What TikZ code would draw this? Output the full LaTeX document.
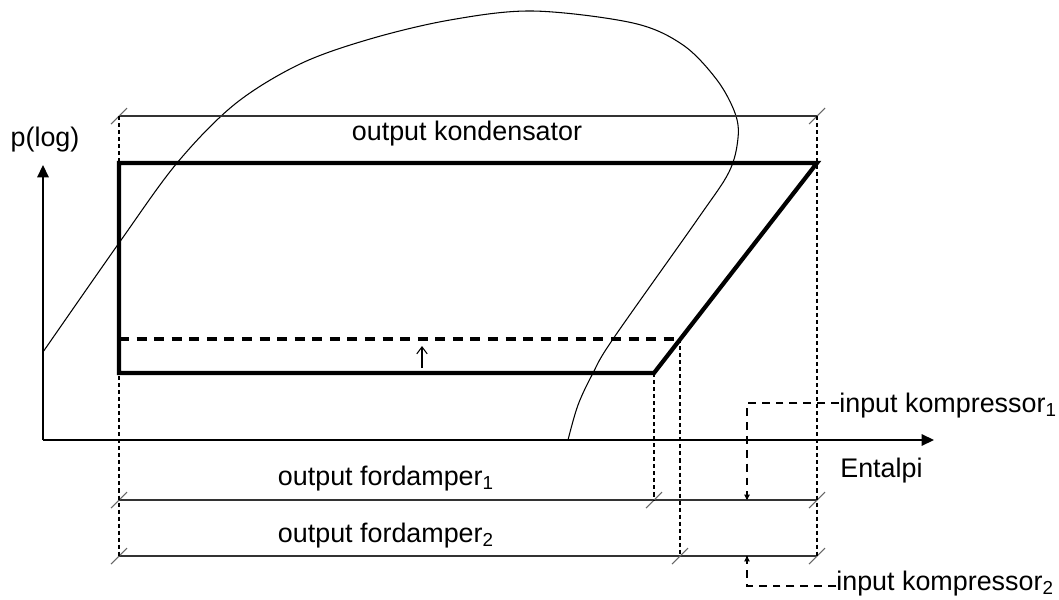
\documentclass[tikz,border=0pt]{standalone}
\usepackage{fontspec}
\setmainfont{Liberation Sans}
\usetikzlibrary{arrows.meta}
\begin{document}
\begin{tikzpicture}[x=0.02cm,y=-0.02cm,
  lbl/.style={font=\fontsize{15.3}{18}\selectfont, inner sep=0pt},
  cyc/.style={line width=2.4pt, line join=miter},
  cycdash/.style={line width=2.4pt, dash pattern=on 5.7pt off 4.3pt},
  dimline/.style={line width=0.7pt, draw=black!80},
  guide/.style={line width=0.6pt, dash pattern=on 2.3pt off 1.7pt},
  inguide/.style={line width=0.6pt, dash pattern=on 4.5pt off 3.4pt},
  tickmark/.style={line width=0.6pt, draw=black!60},
  axis/.style={line width=0.9pt, -{Triangle[length=7pt,width=6.5pt]}},
  dome/.style={line width=0.6pt}]
\useasboundingbox (0,0) rectangle (1059,599);

% axes
\coordinate (O) at (43,440);
\coordinate (Ytip) at (43,165);
\coordinate (Xtip) at (934,440);
\draw[axis] (O) -- (Ytip);
\draw[axis] (O) -- (Xtip);
\node[lbl, anchor=base] (plog) at (45,146) {p(log)};
\node[lbl, anchor=base west] (ent) at (840,477) {Entalpi};

% saturation dome
\draw[dome] plot[smooth, tension=0.55] coordinates {(43,352) (119,243) (177,163) (235,104) (300,64) (370,39) (450,20) (533,11) (633,23) (683,45) (717,80) (735,113) (738,138) (729,172) (697,220) (613,339) (593,373) (578,405) (568,440)};

% cycle
\coordinate (A) at (119,163);
\coordinate (B) at (817,163);
\coordinate (C) at (654,373);
\coordinate (D) at (119,373);
\coordinate (E) at (680,339);
\coordinate (F) at (119,339);
\draw[cyc] (B) -- (A) -- (D) -- (C) -- cycle;
\draw[cycdash] (F) -- (E);
\coordinate (ua) at (422,368);
\coordinate (ub) at (422,346);
\draw[line width=0.6pt, -{Straight Barb[length=4pt,width=6pt]}] (ua) -- (ub);

% dimension lines
\coordinate (T1) at (119,116);
\coordinate (T2) at (817,116);
\coordinate (P1) at (119,500);
\coordinate (P2) at (654,500);
\coordinate (P3) at (817,500);
\coordinate (Q1) at (119,556);
\coordinate (Q2) at (680,556);
\coordinate (Q3) at (817,556);
\draw[dimline] (T1) -- (T2);
\draw[dimline] (P1) -- (P3);
\draw[dimline] (Q1) -- (Q3);

\foreach \p in {T1,T2,P1,P2,P3,Q1,Q2,Q3}
  \draw[tickmark] ([shift={(-8,8)}]\p) -- ([shift={(8,-8)}]\p);

% guides
\draw[guide] (T1) -- (Q1);
\draw[guide] (T2) -- (Q3);
\draw[guide] (C) -- (P2);
\draw[guide] (E) -- (Q2);

\node[lbl, anchor=base] (kond) at (467,140) {output kondensator};
\node[lbl, anchor=base] (ford1) at (386,485) {output fordamper\textsubscript{1}};
\node[lbl, anchor=base] (ford2) at (386,542) {output fordamper\textsubscript{2}};

% compressor inputs
\node[lbl, anchor=base west] (ik1) at (839,412) {input kompressor\textsubscript{1}};
\node[lbl, anchor=base west] (ik2) at (836,590) {input kompressor\textsubscript{2}};
\coordinate (k1) at (747,403);
\coordinate (k1e) at (747,500);
\coordinate (k2) at (747,586);
\coordinate (k2e) at (747,556);
\draw[inguide] (ik1.west |- k1) -- (k1) -- (k1e);
\draw[-{Triangle[length=3pt,width=3pt]}, line width=0.6pt] (747,494) -- (k1e);
\draw[inguide] (ik2.west |- k2) -- (k2) -- (k2e);
\draw[-{Triangle[length=3pt,width=3pt]}, line width=0.6pt] (747,562) -- (k2e);
\end{tikzpicture}
\end{document}
